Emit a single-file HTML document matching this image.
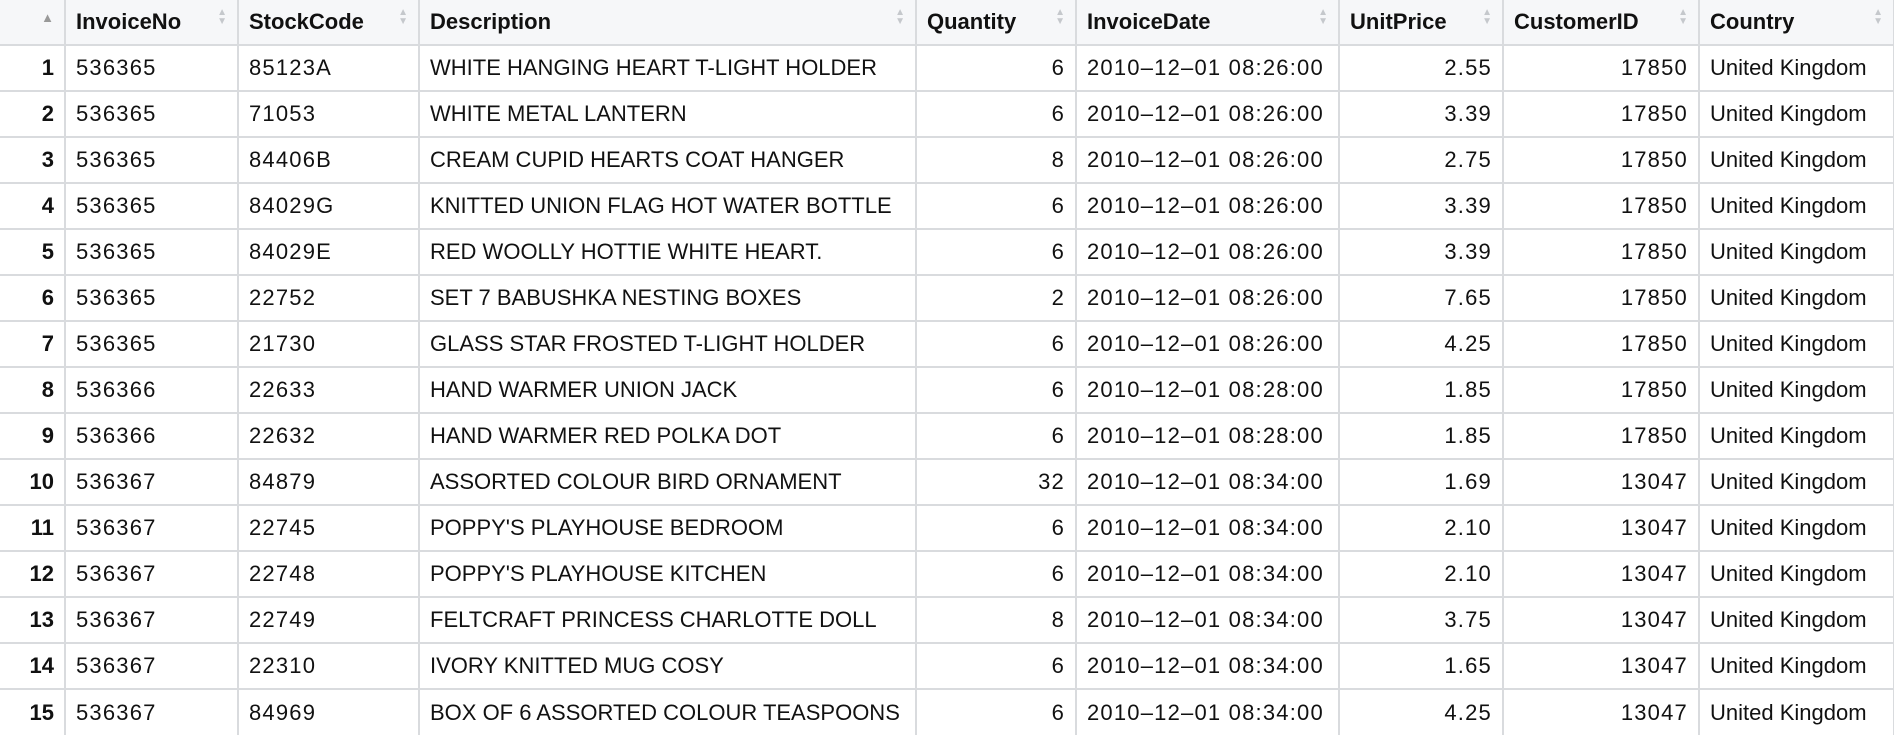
<!DOCTYPE html>
<html><head><meta charset="utf-8">
<style>
html,body{margin:0;padding:0;background:#fff;}
body{width:1894px;height:734px;overflow:hidden;font-family:"Liberation Sans",sans-serif;}
table{border-collapse:collapse;table-layout:fixed;width:1894px;}
td,th{border:2px solid #d9dbde;height:46px;padding:0 10px;font-size:22px;color:#111;white-space:nowrap;overflow:hidden;box-sizing:border-box;}
th{background:#f6f7f9;text-align:left;font-weight:bold;height:45px;position:relative;border-top:none;}
td:first-child,th:first-child{border-left:none;text-align:right;font-weight:bold;}
td.r{text-align:right;}
td.n{letter-spacing:1.2px;}
.sort{position:absolute;right:10px;top:8px;color:#c5c8cc;font-size:10px;line-height:9px;}
.up{position:absolute;right:10px;top:10px;color:#999;font-size:13px;}
tr:last-child td{border-bottom:none;}
</style></head><body>
<table>
<colgroup><col style="width:65px"><col style="width:173px"><col style="width:181px"><col style="width:497px"><col style="width:160px"><col style="width:263px"><col style="width:164px"><col style="width:196px"><col style="width:195px"></colgroup>
<thead><tr>
<th><span class="up">▲</span></th>
<th>InvoiceNo<span class="sort">▲<br>▼</span></th>
<th>StockCode<span class="sort">▲<br>▼</span></th>
<th>Description<span class="sort">▲<br>▼</span></th>
<th>Quantity<span class="sort">▲<br>▼</span></th>
<th>InvoiceDate<span class="sort">▲<br>▼</span></th>
<th>UnitPrice<span class="sort">▲<br>▼</span></th>
<th>CustomerID<span class="sort">▲<br>▼</span></th>
<th>Country<span class="sort">▲<br>▼</span></th>
</tr></thead>
<tbody id="tb"></tbody>
</table>
<script>
const invoices=["536365","536365","536365","536365","536365","536365","536365","536366","536366","536367","536367","536367","536367","536367","536367"];
const stockCodes=["85123A","71053","84406B","84029G","84029E","22752","21730","22633","22632","84879","22745","22748","22749","22310","84969"];
const descriptions=["WHITE HANGING HEART T-LIGHT HOLDER","WHITE METAL LANTERN","CREAM CUPID HEARTS COAT HANGER","KNITTED UNION FLAG HOT WATER BOTTLE","RED WOOLLY HOTTIE WHITE HEART.","SET 7 BABUSHKA NESTING BOXES","GLASS STAR FROSTED T-LIGHT HOLDER","HAND WARMER UNION JACK","HAND WARMER RED POLKA DOT","ASSORTED COLOUR BIRD ORNAMENT","POPPY'S PLAYHOUSE BEDROOM","POPPY'S PLAYHOUSE KITCHEN","FELTCRAFT PRINCESS CHARLOTTE DOLL","IVORY KNITTED MUG COSY","BOX OF 6 ASSORTED COLOUR TEASPOONS"];
const quantities=[6,6,8,6,6,2,6,6,6,32,6,6,8,6,6];
const dates=["2010–12–01 08:26:00","2010–12–01 08:26:00","2010–12–01 08:26:00","2010–12–01 08:26:00","2010–12–01 08:26:00","2010–12–01 08:26:00","2010–12–01 08:26:00","2010–12–01 08:28:00","2010–12–01 08:28:00","2010–12–01 08:34:00","2010–12–01 08:34:00","2010–12–01 08:34:00","2010–12–01 08:34:00","2010–12–01 08:34:00","2010–12–01 08:34:00"];
const prices=["2.55","3.39","2.75","3.39","3.39","7.65","4.25","1.85","1.85","1.69","2.10","2.10","3.75","1.65","4.25"];
const customers=["17850","17850","17850","17850","17850","17850","17850","17850","17850","13047","13047","13047","13047","13047","13047"];
const countries=Array(15).fill("United Kingdom");
const names=["row-index","invoiceno-cell","stockcode-cell","description-cell","quantity-cell","invoicedate-cell","unitprice-cell","customerid-cell","country-cell"];
const tb=document.getElementById('tb');
for(let i=0;i<invoices.length;i++){
  const tr=document.createElement('tr');
  
  
  const vals=[i+1,invoices[i],stockCodes[i],descriptions[i],quantities[i],dates[i],prices[i],customers[i],countries[i]];
  vals.forEach((v,j)=>{
    const td=document.createElement('td');
    td.textContent=v;
    let c=[];
    if(j===4||j===6||j===7)c.push('r');
    if(j!==3&&j!==8&&j!==0)c.push('n');
    td.className=c.join(' ');
    
    
    tr.appendChild(td);
  });
  tb.appendChild(tr);
}
</script>
</body></html>
